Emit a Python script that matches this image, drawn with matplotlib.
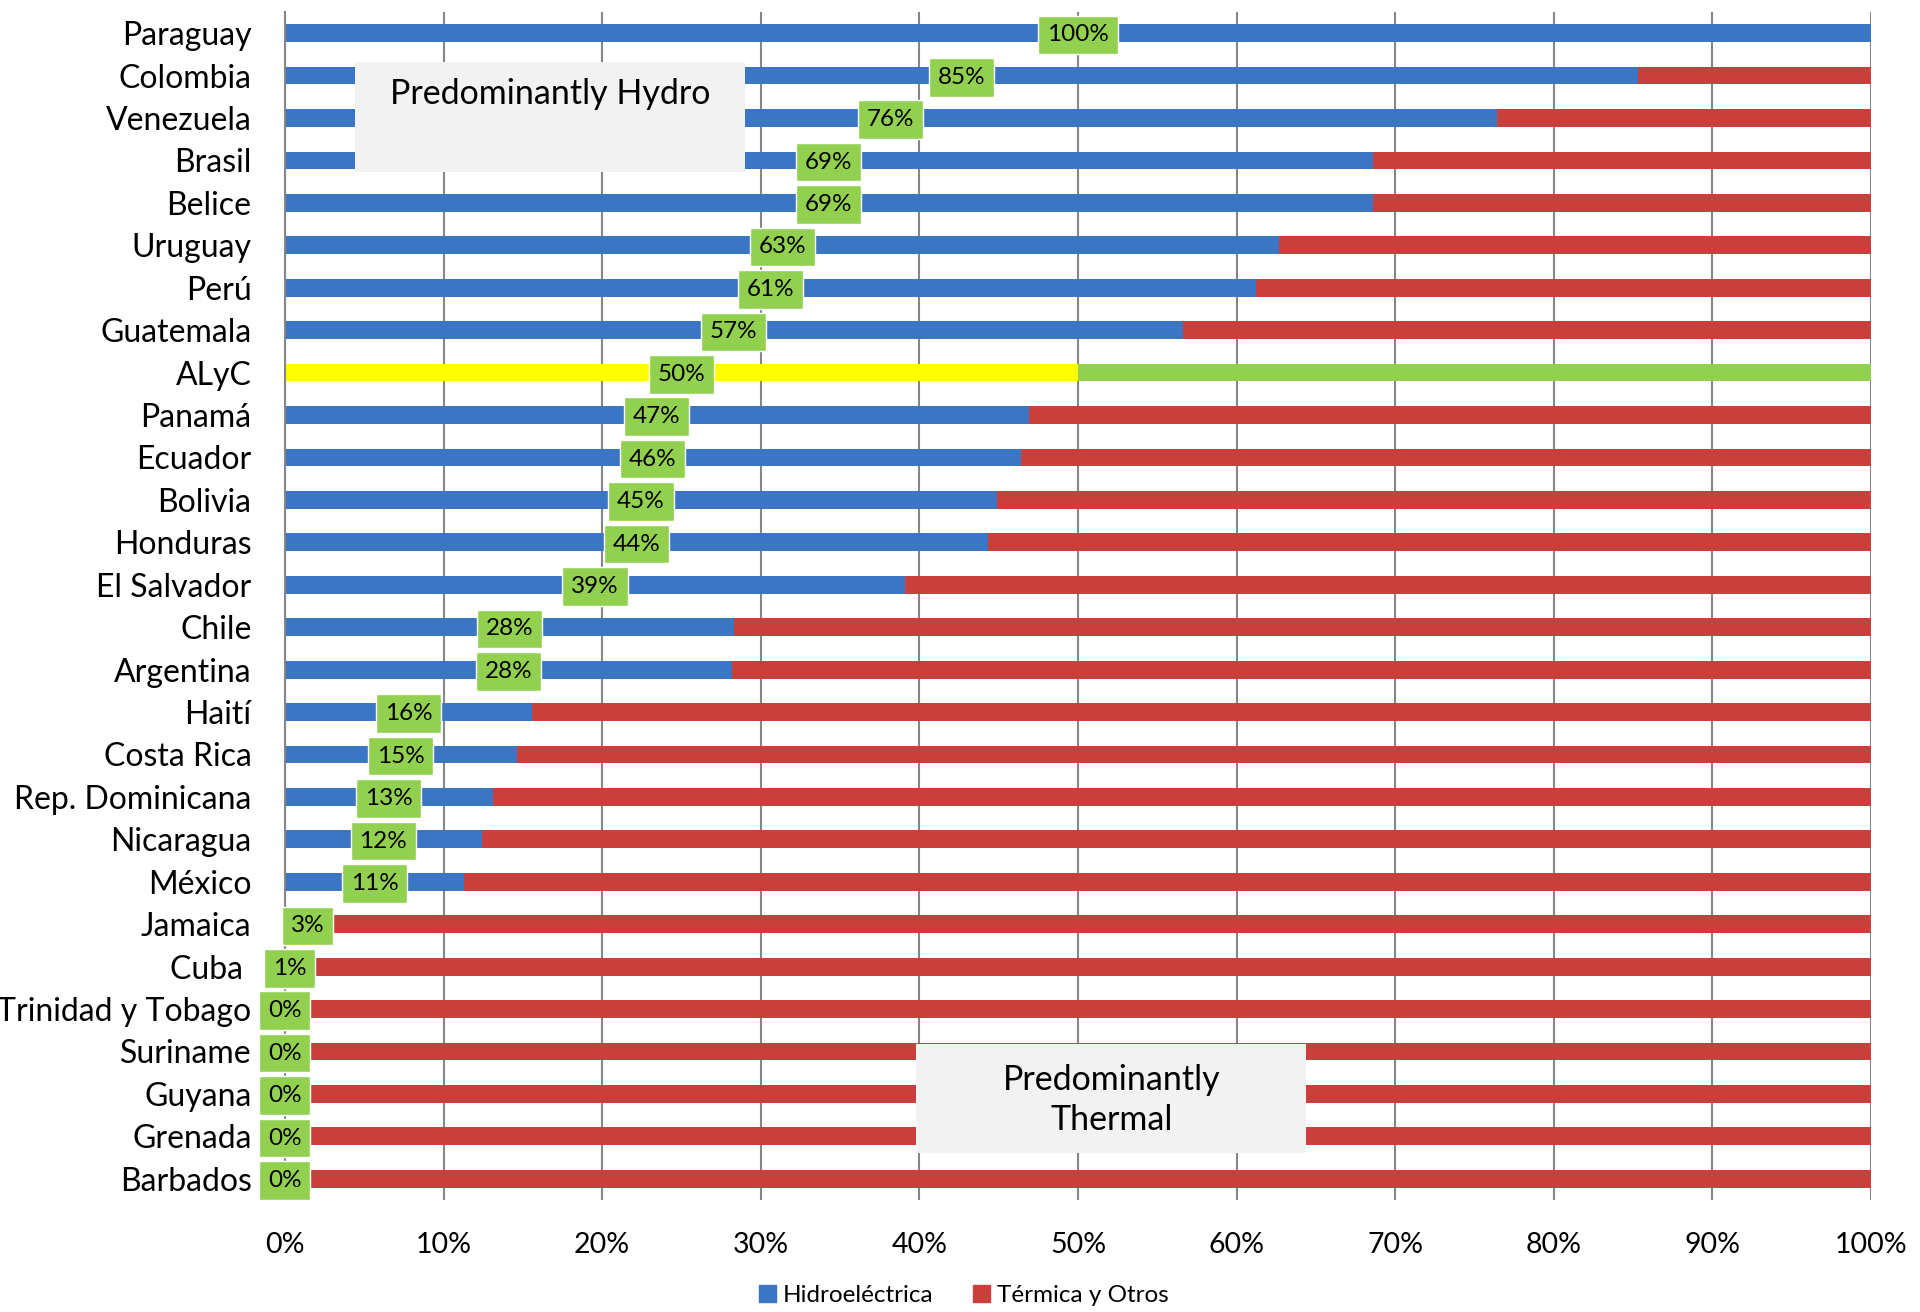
import matplotlib
matplotlib.use("Agg")
import matplotlib.pyplot as plt
from matplotlib.patches import Patch, Rectangle

plt.rcParams['font.family'] = ['Lato', 'DejaVu Sans']

# data (share of hydro generation, %)
countries = ["Paraguay", "Colombia", "Venezuela", "Brasil", "Belice", "Uruguay",
             "Perú", "Guatemala", "ALyC", "Panamá", "Ecuador", "Bolivia",
             "Honduras", "El Salvador", "Chile", "Argentina", "Haití",
             "Costa Rica", "Rep. Dominicana", "Nicaragua", "México", "Jamaica",
             "Cuba ", "Trinidad y Tobago", "Suriname", "Guyana", "Grenada",
             "Barbados"]
hydro = [100, 85.3, 76.4, 68.6, 68.6, 62.7, 61.2, 56.6, 50.0, 46.9, 46.4, 44.9,
         44.3, 39.1, 28.3, 28.2, 15.6, 14.6, 13.1, 12.4, 11.3, 2.9, 0.6, 0, 0, 0,
         0, 0]
thermal = [100 - h for h in hydro]
labels = [str(round(h)) + "%" for h in hydro]

blue = "#3A76C4"
red = "#C93F3B"
hl_name = "ALyC"

fig = plt.figure(figsize=(19.2, 13.12), dpi=100)
ax = fig.add_axes([0.1484, 0.0854, 0.8261, 0.9055])

ypos = list(range(len(countries)))
c1 = ["#FFFF00" if c == hl_name else blue for c in countries]
c2 = ["#92D050" if c == hl_name else red for c in countries]
ax.barh(ypos, hydro, height=0.42, color=c1, zorder=2)
ax.barh(ypos, thermal, left=hydro, height=0.42, color=c2, zorder=2)

for y, h, lab in zip(ypos, hydro, labels):
    ax.text(h / 2, y + 0.04, lab, ha="center", va="center", fontsize=17.5, zorder=5,
            bbox=dict(boxstyle="square,pad=0.36", fc="#92D050", ec="white", lw=1))

# text boxes
ax.add_patch(Rectangle((4.4, 0.68), 24.6, 2.59, fc="#F2F2F2", ec="none", zorder=4))
ax.text(16.7, 1.43, "Predominantly Hydro", ha="center", va="center",
        fontsize=24.5, zorder=6)
ax.add_patch(Rectangle((39.8, 23.82), 24.6, 2.57, fc="#F2F2F2", ec="none", zorder=4))
ax.text(52.1, 25.14, "Predominantly\nThermal", ha="center", va="center",
        fontsize=24.5, zorder=6, linespacing=1.3)

ax.set_xlim(0, 100)
ax.set_ylim(len(countries) - 0.5, -0.5)
ax.set_xticks(range(0, 101, 10))
ax.set_xticklabels([str(t) + "%" for t in range(0, 101, 10)])
ax.set_yticks(ypos)
ax.set_yticklabels(countries)
ax.tick_params(axis="x", length=0, pad=23, labelsize=20.5)
ax.tick_params(axis="y", length=0, pad=24, labelsize=23)
ax.grid(axis="x", color="#868686", lw=1.5, zorder=0)
ax.set_axisbelow(True)
for s in ["top", "right", "bottom"]:
    ax.spines[s].set_visible(False)
ax.spines["left"].set_color("#868686")
ax.spines["left"].set_linewidth(1.5)

handles = [Patch(color=blue, label="Hidroeléctrica"),
           Patch(color=red, label="Térmica y Otros")]
fig.legend(handles=handles, loc="lower center", bbox_to_anchor=(0.502, -0.012),
           ncol=2, frameon=False, fontsize=17.5, handlelength=0.7, handleheight=0.7,
           handletextpad=0.3, columnspacing=1.6)

fig.savefig("out.png", dpi=100)
